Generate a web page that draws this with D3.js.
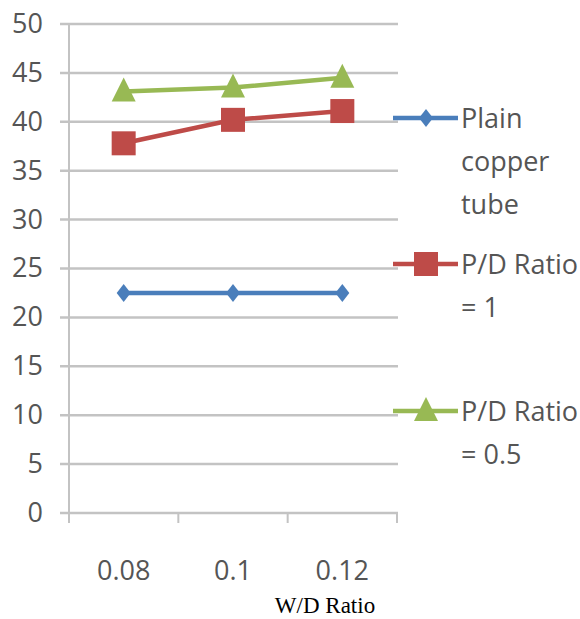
<!DOCTYPE html>
<html><head><meta charset="utf-8">
<script src="https://cdn.jsdelivr.net/npm/d3@7"></script>
<style>body{margin:0;background:#fff}svg{display:block}</style>
</head><body>
<svg id="c" width="580" height="619"></svg>
<script>
const categories = ["0.08", "0.1", "0.12"];
const plainCopper = [22.5, 22.5, 22.5];
const pdRatio1 = [37.8, 40.2, 41.1];
const pdRatio05 = [43.1, 43.5, 44.5];
const yTicks = [0, 5, 10, 15, 20, 25, 30, 35, 40, 45, 50];
const seriesNames = [["Plain", "copper", "tube"], ["P/D Ratio", "= 1"], ["P/D Ratio", "= 0.5"]];
const xTitle = "W/D Ratio";

const series = [
  {name: seriesNames[0], values: plainCopper, color: "#4a7ebb", shape: "diamond"},
  {name: seriesNames[1], values: pdRatio1, color: "#be4b48", shape: "square"},
  {name: seriesNames[2], values: pdRatio05, color: "#98b954", shape: "triangle"}
];

const svg = d3.select("#c");
const x0 = 69, x1 = 397, yTop = 24, yBot = 513;
const x = d3.scaleBand().domain(categories).range([x0, x1]);
const y = d3.scaleLinear().domain([0, 50]).range([yBot, yTop]);
const grid = "#c3c3c3";
const txt = "#555555";
const sans = "'Open Sans', 'DejaVu Sans', sans-serif";

// gridlines
svg.append("g").selectAll("line").data(yTicks).join("line")
  .attr("x1", 60).attr("x2", x1 + 1)
  .attr("y1", d => y(d)).attr("y2", d => y(d))
  .attr("stroke", grid).attr("stroke-width", 2.5);

// y axis line
svg.append("line").attr("x1", x0).attr("x2", x0).attr("y1", yTop).attr("y2", yBot + 10)
  .attr("stroke", grid).attr("stroke-width", 2);

// x ticks at band boundaries
const bounds = categories.map(c => x(c)).concat([x1]);
svg.append("g").selectAll("line").data(bounds.slice(1)).join("line")
  .attr("x1", d => d).attr("x2", d => d).attr("y1", yBot).attr("y2", yBot + 10)
  .attr("stroke", grid).attr("stroke-width", 2);

// y labels
svg.append("g").selectAll("text").data(yTicks).join("text")
  .attr("x", 43).attr("y", d => y(d)).attr("dy", "0.33em")
  .attr("text-anchor", "end").attr("fill", txt)
  .style("font-family", sans).style("font-size", "27px")
  .text(d => d);

// x labels
svg.append("g").selectAll("text").data(categories).join("text")
  .attr("x", d => x(d) + x.bandwidth() / 2).attr("y", 580)
  .attr("text-anchor", "middle").attr("fill", txt)
  .style("font-family", sans).style("font-size", "27px")
  .text(d => d);

// x title
svg.append("text").attr("x", 325).attr("y", 613).attr("text-anchor", "middle")
  .attr("fill", "#000").style("font-family", "'Liberation Serif', 'Times New Roman', serif")
  .style("font-size", "23px").text(xTitle);

function marker(g, shape, color, cx, cy) {
  if (shape === "diamond") {
    g.append("path").attr("d", `M${cx},${cy-9}L${cx+7},${cy}L${cx},${cy+9}L${cx-7},${cy}Z`).attr("fill", color);
  } else if (shape === "square") {
    g.append("rect").attr("x", cx - 12).attr("y", cy - 12).attr("width", 24).attr("height", 24).attr("fill", color);
  } else {
    g.append("path").attr("d", `M${cx},${cy-14}L${cx+12},${cy+10}L${cx-12},${cy+10}Z`).attr("fill", color);
  }
}

const line = d3.line().x((d, i) => x(categories[i]) + x.bandwidth() / 2).y(d => y(d));
series.forEach(s => {
  const g = svg.append("g");
  g.append("path").attr("d", line(s.values)).attr("fill", "none")
    .attr("stroke", s.color).attr("stroke-width", 4.5);
  s.values.forEach((v, i) => marker(g, s.shape, s.color, x(categories[i]) + x.bandwidth() / 2, y(v)));
});

// legend
const legY = [118, 264, 411];
series.forEach((s, i) => {
  const g = svg.append("g");
  const ly = legY[i];
  g.append("line").attr("x1", 393).attr("x2", 458).attr("y1", ly).attr("y2", ly)
    .attr("stroke", s.color).attr("stroke-width", 4.5);
  marker(g, s.shape, s.color, 426, ly);
  s.name.forEach((t, j) => {
    g.append("text").attr("x", 461).attr("y", ly + j * 43).attr("dy", "0.36em")
      .attr("fill", txt).style("font-family", sans)
      .style("font-size", "27px").text(t);
  });
});
</script>
</body></html>
